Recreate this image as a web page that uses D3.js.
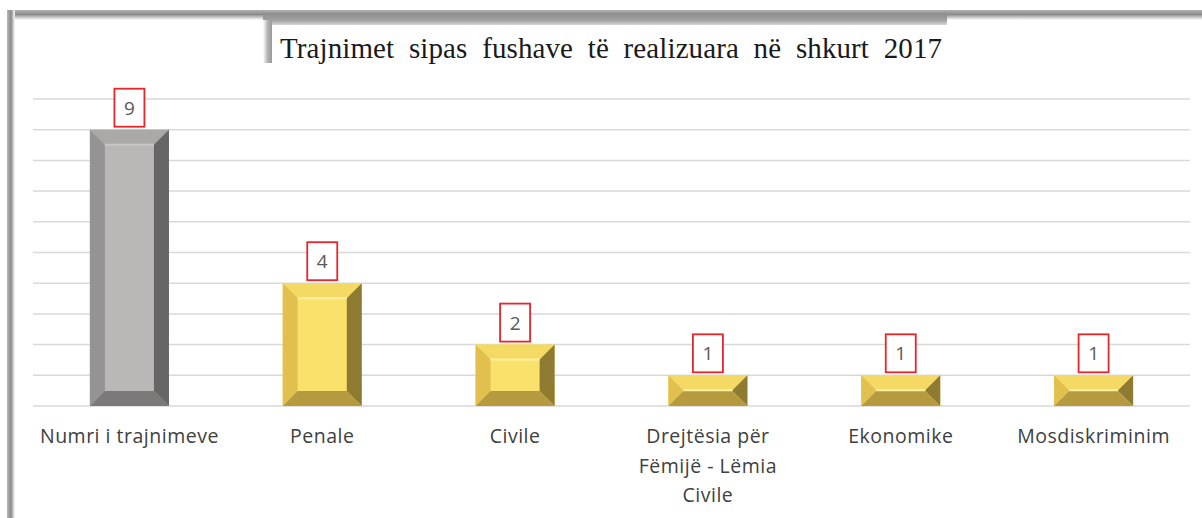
<!DOCTYPE html>
<html>
<head>
<meta charset="utf-8">
<script src="https://cdn.jsdelivr.net/npm/d3@7"></script>
<style>
  body { margin: 0; background: #fff; }
  svg { display: block; }
</style>
</head>
<body>
<div id="chart"></div>
<script>
// chart data
var categories = ["Numri i trajnimeve", "Penale", "Civile", "Drejtësia për\nFëmijë - Lëmia\nCivile", "Ekonomike", "Mosdiskriminim"];
var values = [9, 4, 2, 1, 1, 1];
var gridValues = [0, 1, 2, 3, 4, 5, 6, 7, 8, 9, 10];
var title = "Trajnimet  sipas  fushave  të  realizuara  në  shkurt  2017";

var width = 1202, height = 518;
var plot = {left: 33, right: 1190, top: 99, bottom: 406};

var svg = d3.select('#chart').append('svg')
  .attr('width', width)
  .attr('height', height);

var defs = svg.append('defs');

function gradient(id, horizontal, stops) {
  var g = defs.append('linearGradient').attr('id', id)
    .attr('x1', 0).attr('y1', 0)
    .attr('x2', horizontal ? 1 : 0).attr('y2', horizontal ? 0 : 1);
  stops.forEach(function(s) {
    g.append('stop').attr('offset', s[0]).attr('stop-color', s[1]).attr('stop-opacity', s[2] == null ? 1 : s[2]);
  });
}

gradient('frameTop', false, [[0, '#b0b0b0'], [0.45, '#8c8c8c'], [1, '#ffffff']]);
gradient('frameLeft', true, [[0, '#b8b8b8'], [0.5, '#8a8a8a'], [1, '#ffffff']]);
gradient('titleTop', false, [[0, '#8e8e8e'], [0.6, '#a0a0a0'], [1, '#d8d8d8']]);
gradient('titleLeft', true, [[0, '#ffffff'], [0.5, '#b4b4b4'], [1, '#9a9a9a']]);

// frame shadow, top and left
svg.append('rect').attr('x', 7).attr('y', 10).attr('width', width - 7).attr('height', 10).attr('fill', 'url(#frameTop)');
svg.append('rect').attr('x', 7).attr('y', 10).attr('width', 8).attr('height', height - 10).attr('fill', 'url(#frameLeft)');

// title box with its shadow
svg.append('rect').attr('x', 263).attr('y', 13).attr('width', 684).attr('height', 12).attr('fill', 'url(#titleTop)');
svg.append('rect').attr('x', 263).attr('y', 20).attr('width', 9).attr('height', 43).attr('fill', 'url(#titleLeft)');
svg.append('rect').attr('x', 272).attr('y', 25).attr('width', 680).attr('height', 43).attr('fill', '#fff');
svg.append('text')
  .attr('x', 280)
  .attr('y', 58)
  .attr('xml:space', 'preserve')
  .attr('font-family', 'Liberation Serif, Times New Roman, serif')
  .attr('font-size', 29)
  .attr('fill', '#1a1a1a')
  .attr('textLength', 662)
  .attr('lengthAdjust', 'spacing')
  .text(title);

// scales
var x = d3.scaleBand()
  .domain(categories)
  .range([plot.left, plot.right])
  .paddingInner(0.59)
  .paddingOuter(0.295);

var y = d3.scaleLinear()
  .domain([0, 10])
  .range([plot.bottom, plot.top]);

// gridlines
svg.append('g')
  .selectAll('line')
  .data(gridValues)
  .enter().append('line')
  .attr('x1', plot.left)
  .attr('x2', plot.right)
  .attr('y1', function(d) { return y(d); })
  .attr('y2', function(d) { return y(d); })
  .attr('stroke', '#d9d9d9')
  .attr('stroke-width', 1.5);

// bevel colours: [center, top, left, right, bottom]
var grayFaces = ['#bab7b7', '#aba8a8', '#959393', '#676565', '#7b7979'];
var goldFaces = ['#fae16c', '#f4d965', '#e2c04f', '#8f7a32', '#b69a40'];

var bars = svg.append('g').selectAll('g')
  .data(values)
  .enter().append('g');

bars.each(function(d, i) {
  var g = d3.select(this);
  var bx = x(categories[i]), bw = x.bandwidth();
  var by = y(d), bh = y(0) - y(d);
  var b = Math.min(15, bh / 2, bw / 2);
  var c = i === 0 ? grayFaces : goldFaces;
  var pts = function(a) { return a.map(function(p) { return p.join(','); }).join(' '); };

  g.append('rect').attr('x', bx).attr('y', by).attr('width', bw).attr('height', bh).attr('fill', c[0]);
  g.append('polygon').attr('fill', c[1])
    .attr('points', pts([[bx, by], [bx + bw, by], [bx + bw - b, by + b], [bx + b, by + b]]));
  g.append('polygon').attr('fill', c[2])
    .attr('points', pts([[bx, by], [bx + b, by + b], [bx + b, by + bh - b], [bx, by + bh]]));
  g.append('polygon').attr('fill', c[3])
    .attr('points', pts([[bx + bw, by], [bx + bw - b, by + b], [bx + bw - b, by + bh - b], [bx + bw, by + bh]]));
  g.append('polygon').attr('fill', c[4])
    .attr('points', pts([[bx, by + bh], [bx + b, by + bh - b], [bx + bw - b, by + bh - b], [bx + bw, by + bh]]));
  // soft highlight along the inner top edge
  g.append('line')
    .attr('x1', bx + b).attr('x2', bx + bw - b)
    .attr('y1', by + b).attr('y2', by + b)
    .attr('stroke', i === 0 ? '#c8c5c5' : '#fff0a0')
    .attr('stroke-width', 2);
});

// value labels in red boxes
var labels = svg.append('g').selectAll('g')
  .data(values)
  .enter().append('g')
  .attr('transform', function(d, i) {
    return 'translate(' + (x(categories[i]) + x.bandwidth() / 2) + ',' + (y(d) - 3) + ')';
  });

labels.append('rect')
  .attr('x', -15)
  .attr('y', -38)
  .attr('width', 30)
  .attr('height', 38)
  .attr('fill', '#fff')
  .attr('stroke', '#e8262a')
  .attr('stroke-width', 1.8);

labels.append('text')
  .attr('y', -12)
  .attr('text-anchor', 'middle')
  .attr('font-family', 'Open Sans, sans-serif')
  .attr('font-size', 19)
  .attr('fill', '#595959')
  .text(function(d) { return d; });

// category labels
var cats = svg.append('g').selectAll('text')
  .data(categories)
  .enter().append('text')
  .attr('x', function(d) { return x(d) + x.bandwidth() / 2; })
  .attr('y', 443)
  .attr('text-anchor', 'middle')
  .attr('font-family', 'Open Sans, sans-serif')
  .attr('font-size', 19.5)
  .attr('letter-spacing', 0.5)
  .attr('fill', '#404040');

cats.selectAll('tspan')
  .data(function(d) { return d.split('\n'); })
  .enter().append('tspan')
  .attr('x', function() { return d3.select(this.parentNode).attr('x'); })
  .attr('dy', function(d, i) { return i === 0 ? 0 : 29.5; })
  .text(function(d) { return d; });
</script>
</body>
</html>
